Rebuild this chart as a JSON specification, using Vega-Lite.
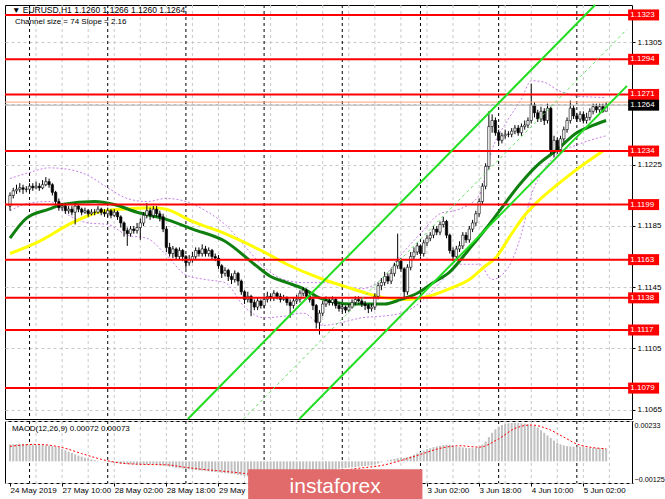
{
"$schema": "https://vega.github.io/schema/vega-lite/v6.json",
"background": "white",
"padding": {"left": 3, "top": 0, "right": 0, "bottom": 0},
"spacing": 2,
"bounds": "flush",
"config": {
  "font": "Liberation Sans",
  "view": {"stroke": "#000000", "strokeWidth": 1},
  "axis": {"labelFont": "Liberation Sans", "labelFontSize": 8, "labelColor": "#000000", "domainColor": "#000000", "tickColor": "#000000", "tickSize": 3, "labelPadding": 2, "gridColor": "#c8c8c8", "gridDash": [3, 3], "gridWidth": 1, "title": null}
},
"datasets": {
  "candles": [
{"i":0,"o":1.1198,"h":1.1207,"l":1.1195,"c":1.1205,"m":0.00098},
{"i":1,"o":1.1205,"h":1.1210,"l":1.1203,"c":1.1208,"m":0.00099},
{"i":2,"o":1.1208,"h":1.1212,"l":1.1206,"c":1.1209,"m":0.00100},
{"i":3,"o":1.1209,"h":1.1213,"l":1.1207,"c":1.1210,"m":0.00100},
{"i":4,"o":1.1210,"h":1.1212,"l":1.1206,"c":1.1209,"m":0.00100},
{"i":5,"o":1.1209,"h":1.1211,"l":1.1207,"c":1.1209,"m":0.00099},
{"i":6,"o":1.1209,"h":1.1213,"l":1.1207,"c":1.1211,"m":0.00098},
{"i":7,"o":1.1211,"h":1.1213,"l":1.1208,"c":1.1210,"m":0.00097},
{"i":8,"o":1.1210,"h":1.1214,"l":1.1209,"c":1.1211,"m":0.00096},
{"i":9,"o":1.1211,"h":1.1213,"l":1.1208,"c":1.1210,"m":0.00095},
{"i":10,"o":1.1210,"h":1.1215,"l":1.1209,"c":1.1212,"m":0.00093},
{"i":11,"o":1.1212,"h":1.1217,"l":1.1211,"c":1.1214,"m":0.00092},
{"i":12,"o":1.1214,"h":1.1216,"l":1.1210,"c":1.1212,"m":0.00090},
{"i":13,"o":1.1212,"h":1.1213,"l":1.1205,"c":1.1207,"m":0.00088},
{"i":14,"o":1.1207,"h":1.1208,"l":1.1199,"c":1.1201,"m":0.00085},
{"i":15,"o":1.1201,"h":1.1203,"l":1.1195,"c":1.1197,"m":0.00080},
{"i":16,"o":1.1197,"h":1.1200,"l":1.1195,"c":1.1198,"m":0.00072},
{"i":17,"o":1.1198,"h":1.1200,"l":1.1193,"c":1.1195,"m":0.00064},
{"i":18,"o":1.1195,"h":1.1198,"l":1.1193,"c":1.1196,"m":0.00056},
{"i":19,"o":1.1196,"h":1.1198,"l":1.1192,"c":1.1194,"m":0.00048},
{"i":20,"o":1.1194,"h":1.1200,"l":1.1186,"c":1.1198,"m":0.00040},
{"i":21,"o":1.1198,"h":1.1199,"l":1.1194,"c":1.1196,"m":0.00033},
{"i":22,"o":1.1196,"h":1.1197,"l":1.1192,"c":1.1194,"m":0.00027},
{"i":23,"o":1.1194,"h":1.1197,"l":1.1193,"c":1.1195,"m":0.00021},
{"i":24,"o":1.1195,"h":1.1196,"l":1.1191,"c":1.1193,"m":0.00016},
{"i":25,"o":1.1193,"h":1.1196,"l":1.1192,"c":1.1194,"m":0.00011},
{"i":26,"o":1.1194,"h":1.1196,"l":1.1192,"c":1.1194,"m":0.00007},
{"i":27,"o":1.1194,"h":1.1198,"l":1.1193,"c":1.1196,"m":0.00003},
{"i":28,"o":1.1196,"h":1.1197,"l":1.1192,"c":1.1194,"m":0.00000},
{"i":29,"o":1.1194,"h":1.1196,"l":1.1191,"c":1.1193,"m":-0.00002},
{"i":30,"o":1.1193,"h":1.1197,"l":1.1191,"c":1.1195,"m":-0.00004},
{"i":31,"o":1.1195,"h":1.1196,"l":1.1190,"c":1.1192,"m":-0.00006},
{"i":32,"o":1.1192,"h":1.1196,"l":1.1191,"c":1.1194,"m":-0.00008},
{"i":33,"o":1.1194,"h":1.1195,"l":1.1189,"c":1.1191,"m":-0.00010},
{"i":34,"o":1.1191,"h":1.1192,"l":1.1184,"c":1.1187,"m":-0.00012},
{"i":35,"o":1.1187,"h":1.1188,"l":1.1178,"c":1.1182,"m":-0.00014},
{"i":36,"o":1.1182,"h":1.1184,"l":1.1172,"c":1.1180,"m":-0.00016},
{"i":37,"o":1.1180,"h":1.1185,"l":1.1178,"c":1.1183,"m":-0.00017},
{"i":38,"o":1.1183,"h":1.1185,"l":1.1180,"c":1.1182,"m":-0.00018},
{"i":39,"o":1.1182,"h":1.1187,"l":1.1180,"c":1.1184,"m":-0.00019},
{"i":40,"o":1.1184,"h":1.1190,"l":1.1176,"c":1.1187,"m":-0.00020},
{"i":41,"o":1.1187,"h":1.1194,"l":1.1185,"c":1.1192,"m":-0.00020},
{"i":42,"o":1.1192,"h":1.1200,"l":1.1190,"c":1.1195,"m":-0.00019},
{"i":43,"o":1.1195,"h":1.1197,"l":1.1189,"c":1.1192,"m":-0.00018},
{"i":44,"o":1.1192,"h":1.1198,"l":1.1190,"c":1.1196,"m":-0.00019},
{"i":45,"o":1.1196,"h":1.1198,"l":1.1191,"c":1.1193,"m":-0.00020},
{"i":46,"o":1.1193,"h":1.1195,"l":1.1188,"c":1.1191,"m":-0.00022},
{"i":47,"o":1.1191,"h":1.1193,"l":1.1181,"c":1.1183,"m":-0.00025},
{"i":48,"o":1.1183,"h":1.1185,"l":1.1168,"c":1.1171,"m":-0.00028},
{"i":49,"o":1.1171,"h":1.1174,"l":1.1165,"c":1.1167,"m":-0.00031},
{"i":50,"o":1.1167,"h":1.1172,"l":1.1164,"c":1.1170,"m":-0.00034},
{"i":51,"o":1.1170,"h":1.1171,"l":1.1163,"c":1.1165,"m":-0.00037},
{"i":52,"o":1.1165,"h":1.1171,"l":1.1163,"c":1.1169,"m":-0.00040},
{"i":53,"o":1.1169,"h":1.1170,"l":1.1162,"c":1.1165,"m":-0.00042},
{"i":54,"o":1.1165,"h":1.1166,"l":1.1157,"c":1.1161,"m":-0.00044},
{"i":55,"o":1.1161,"h":1.1166,"l":1.1159,"c":1.1163,"m":-0.00046},
{"i":56,"o":1.1163,"h":1.1168,"l":1.1161,"c":1.1165,"m":-0.00048},
{"i":57,"o":1.1165,"h":1.1171,"l":1.1163,"c":1.1169,"m":-0.00050},
{"i":58,"o":1.1169,"h":1.1171,"l":1.1165,"c":1.1167,"m":-0.00052},
{"i":59,"o":1.1167,"h":1.1173,"l":1.1165,"c":1.1170,"m":-0.00054},
{"i":60,"o":1.1170,"h":1.1172,"l":1.1165,"c":1.1167,"m":-0.00056},
{"i":61,"o":1.1167,"h":1.1171,"l":1.1165,"c":1.1169,"m":-0.00058},
{"i":62,"o":1.1169,"h":1.1170,"l":1.1163,"c":1.1165,"m":-0.00060},
{"i":63,"o":1.1165,"h":1.1167,"l":1.1162,"c":1.1164,"m":-0.00062},
{"i":64,"o":1.1164,"h":1.1166,"l":1.1157,"c":1.1159,"m":-0.00064},
{"i":65,"o":1.1159,"h":1.1160,"l":1.1151,"c":1.1154,"m":-0.00066},
{"i":66,"o":1.1154,"h":1.1158,"l":1.1152,"c":1.1156,"m":-0.00068},
{"i":67,"o":1.1156,"h":1.1157,"l":1.1149,"c":1.1152,"m":-0.00070},
{"i":68,"o":1.1152,"h":1.1154,"l":1.1147,"c":1.1150,"m":-0.00072},
{"i":69,"o":1.1150,"h":1.1156,"l":1.1148,"c":1.1154,"m":-0.00075},
{"i":70,"o":1.1154,"h":1.1155,"l":1.1146,"c":1.1149,"m":-0.00078},
{"i":71,"o":1.1149,"h":1.1150,"l":1.1140,"c":1.1142,"m":-0.00081},
{"i":72,"o":1.1142,"h":1.1143,"l":1.1134,"c":1.1137,"m":-0.00084},
{"i":73,"o":1.1137,"h":1.1142,"l":1.1135,"c":1.1139,"m":-0.00087},
{"i":74,"o":1.1139,"h":1.1140,"l":1.1126,"c":1.1135,"m":-0.00090},
{"i":75,"o":1.1135,"h":1.1137,"l":1.1130,"c":1.1132,"m":-0.00092},
{"i":76,"o":1.1132,"h":1.1138,"l":1.1130,"c":1.1136,"m":-0.00094},
{"i":77,"o":1.1136,"h":1.1137,"l":1.1131,"c":1.1133,"m":-0.00095},
{"i":78,"o":1.1133,"h":1.1139,"l":1.1131,"c":1.1137,"m":-0.00095},
{"i":79,"o":1.1137,"h":1.1142,"l":1.1135,"c":1.1139,"m":-0.00094},
{"i":80,"o":1.1139,"h":1.1141,"l":1.1136,"c":1.1138,"m":-0.00092},
{"i":81,"o":1.1138,"h":1.1143,"l":1.1136,"c":1.1141,"m":-0.00090},
{"i":82,"o":1.1141,"h":1.1142,"l":1.1137,"c":1.1139,"m":-0.00087},
{"i":83,"o":1.1139,"h":1.1141,"l":1.1135,"c":1.1137,"m":-0.00084},
{"i":84,"o":1.1137,"h":1.1140,"l":1.1136,"c":1.1138,"m":-0.00081},
{"i":85,"o":1.1138,"h":1.1139,"l":1.1133,"c":1.1135,"m":-0.00078},
{"i":86,"o":1.1135,"h":1.1137,"l":1.1125,"c":1.1133,"m":-0.00075},
{"i":87,"o":1.1133,"h":1.1138,"l":1.1131,"c":1.1136,"m":-0.00072},
{"i":88,"o":1.1136,"h":1.1140,"l":1.1134,"c":1.1137,"m":-0.00069},
{"i":89,"o":1.1137,"h":1.1143,"l":1.1135,"c":1.1141,"m":-0.00066},
{"i":90,"o":1.1141,"h":1.1145,"l":1.1139,"c":1.1143,"m":-0.00063},
{"i":91,"o":1.1143,"h":1.1144,"l":1.1137,"c":1.1139,"m":-0.00060},
{"i":92,"o":1.1139,"h":1.1141,"l":1.1135,"c":1.1137,"m":-0.00058},
{"i":93,"o":1.1137,"h":1.1139,"l":1.1130,"c":1.1133,"m":-0.00057},
{"i":94,"o":1.1133,"h":1.1134,"l":1.1118,"c":1.1122,"m":-0.00058},
{"i":95,"o":1.1122,"h":1.1130,"l":1.1114,"c":1.1128,"m":-0.00060},
{"i":96,"o":1.1128,"h":1.1136,"l":1.1126,"c":1.1134,"m":-0.00058},
{"i":97,"o":1.1134,"h":1.1139,"l":1.1132,"c":1.1136,"m":-0.00055},
{"i":98,"o":1.1136,"h":1.1138,"l":1.1133,"c":1.1135,"m":-0.00052},
{"i":99,"o":1.1135,"h":1.1139,"l":1.1133,"c":1.1137,"m":-0.00049},
{"i":100,"o":1.1137,"h":1.1138,"l":1.1131,"c":1.1133,"m":-0.00046},
{"i":101,"o":1.1133,"h":1.1135,"l":1.1129,"c":1.1131,"m":-0.00043},
{"i":102,"o":1.1131,"h":1.1134,"l":1.1129,"c":1.1132,"m":-0.00041},
{"i":103,"o":1.1132,"h":1.1133,"l":1.1128,"c":1.1130,"m":-0.00039},
{"i":104,"o":1.1130,"h":1.1134,"l":1.1129,"c":1.1132,"m":-0.00037},
{"i":105,"o":1.1132,"h":1.1137,"l":1.1131,"c":1.1135,"m":-0.00035},
{"i":106,"o":1.1135,"h":1.1139,"l":1.1133,"c":1.1137,"m":-0.00033},
{"i":107,"o":1.1137,"h":1.1139,"l":1.1134,"c":1.1136,"m":-0.00031},
{"i":108,"o":1.1136,"h":1.1138,"l":1.1132,"c":1.1134,"m":-0.00029},
{"i":109,"o":1.1134,"h":1.1136,"l":1.1130,"c":1.1133,"m":-0.00027},
{"i":110,"o":1.1133,"h":1.1134,"l":1.1128,"c":1.1131,"m":-0.00025},
{"i":111,"o":1.1131,"h":1.1134,"l":1.1129,"c":1.1132,"m":-0.00023},
{"i":112,"o":1.1132,"h":1.1141,"l":1.1130,"c":1.1139,"m":-0.00018},
{"i":113,"o":1.1139,"h":1.1148,"l":1.1137,"c":1.1146,"m":-0.00012},
{"i":114,"o":1.1146,"h":1.1151,"l":1.1143,"c":1.1148,"m":-0.00006},
{"i":115,"o":1.1148,"h":1.1155,"l":1.1146,"c":1.1152,"m":0.00000},
{"i":116,"o":1.1152,"h":1.1154,"l":1.1147,"c":1.1149,"m":0.00005},
{"i":117,"o":1.1149,"h":1.1157,"l":1.1147,"c":1.1154,"m":0.00010},
{"i":118,"o":1.1154,"h":1.1161,"l":1.1152,"c":1.1159,"m":0.00015},
{"i":119,"o":1.1159,"h":1.1180,"l":1.1157,"c":1.1162,"m":0.00019},
{"i":120,"o":1.1162,"h":1.1164,"l":1.1155,"c":1.1157,"m":0.00022},
{"i":121,"o":1.1157,"h":1.1158,"l":1.1138,"c":1.1142,"m":0.00020},
{"i":122,"o":1.1142,"h":1.1160,"l":1.1140,"c":1.1158,"m":0.00024},
{"i":123,"o":1.1158,"h":1.1168,"l":1.1156,"c":1.1165,"m":0.00030},
{"i":124,"o":1.1165,"h":1.1171,"l":1.1163,"c":1.1168,"m":0.00038},
{"i":125,"o":1.1168,"h":1.1174,"l":1.1166,"c":1.1172,"m":0.00046},
{"i":126,"o":1.1172,"h":1.1173,"l":1.1165,"c":1.1167,"m":0.00054},
{"i":127,"o":1.1167,"h":1.1176,"l":1.1165,"c":1.1174,"m":0.00062},
{"i":128,"o":1.1174,"h":1.1179,"l":1.1172,"c":1.1177,"m":0.00070},
{"i":129,"o":1.1177,"h":1.1181,"l":1.1175,"c":1.1179,"m":0.00076},
{"i":130,"o":1.1179,"h":1.1185,"l":1.1177,"c":1.1183,"m":0.00082},
{"i":131,"o":1.1183,"h":1.1185,"l":1.1179,"c":1.1181,"m":0.00086},
{"i":132,"o":1.1181,"h":1.1188,"l":1.1179,"c":1.1186,"m":0.00090},
{"i":133,"o":1.1186,"h":1.1191,"l":1.1184,"c":1.1188,"m":0.00094},
{"i":134,"o":1.1188,"h":1.1189,"l":1.1177,"c":1.1179,"m":0.00096},
{"i":135,"o":1.1179,"h":1.1180,"l":1.1167,"c":1.1169,"m":0.00095},
{"i":136,"o":1.1169,"h":1.1171,"l":1.1162,"c":1.1165,"m":0.00088},
{"i":137,"o":1.1165,"h":1.1172,"l":1.1163,"c":1.1170,"m":0.00084},
{"i":138,"o":1.1170,"h":1.1175,"l":1.1168,"c":1.1172,"m":0.00082},
{"i":139,"o":1.1172,"h":1.1181,"l":1.1170,"c":1.1179,"m":0.00080},
{"i":140,"o":1.1179,"h":1.1181,"l":1.1174,"c":1.1176,"m":0.00078},
{"i":141,"o":1.1176,"h":1.1185,"l":1.1174,"c":1.1183,"m":0.00077},
{"i":142,"o":1.1183,"h":1.1189,"l":1.1181,"c":1.1187,"m":0.00076},
{"i":143,"o":1.1187,"h":1.1195,"l":1.1185,"c":1.1193,"m":0.00078},
{"i":144,"o":1.1193,"h":1.1203,"l":1.1191,"c":1.1201,"m":0.00084},
{"i":145,"o":1.1201,"h":1.1213,"l":1.1199,"c":1.1211,"m":0.00096},
{"i":146,"o":1.1211,"h":1.1226,"l":1.1209,"c":1.1224,"m":0.00115},
{"i":147,"o":1.1224,"h":1.1260,"l":1.1222,"c":1.1250,"m":0.00140},
{"i":148,"o":1.1250,"h":1.1258,"l":1.1246,"c":1.1254,"m":0.00165},
{"i":149,"o":1.1254,"h":1.1256,"l":1.1244,"c":1.1246,"m":0.00185},
{"i":150,"o":1.1246,"h":1.1248,"l":1.1239,"c":1.1241,"m":0.00200},
{"i":151,"o":1.1241,"h":1.1246,"l":1.1239,"c":1.1244,"m":0.00210},
{"i":152,"o":1.1244,"h":1.1248,"l":1.1242,"c":1.1245,"m":0.00216},
{"i":153,"o":1.1245,"h":1.1247,"l":1.1243,"c":1.1245,"m":0.00220},
{"i":154,"o":1.1245,"h":1.1249,"l":1.1243,"c":1.1247,"m":0.00222},
{"i":155,"o":1.1247,"h":1.1251,"l":1.1245,"c":1.1249,"m":0.00223},
{"i":156,"o":1.1249,"h":1.1251,"l":1.1244,"c":1.1246,"m":0.00222},
{"i":157,"o":1.1246,"h":1.1252,"l":1.1244,"c":1.1250,"m":0.00220},
{"i":158,"o":1.1250,"h":1.1254,"l":1.1248,"c":1.1251,"m":0.00218},
{"i":159,"o":1.1251,"h":1.1256,"l":1.1249,"c":1.1254,"m":0.00214},
{"i":160,"o":1.1254,"h":1.1278,"l":1.1252,"c":1.1264,"m":0.00210},
{"i":161,"o":1.1264,"h":1.1266,"l":1.1256,"c":1.1259,"m":0.00205},
{"i":162,"o":1.1259,"h":1.1261,"l":1.1253,"c":1.1255,"m":0.00195},
{"i":163,"o":1.1255,"h":1.1263,"l":1.1253,"c":1.1260,"m":0.00180},
{"i":164,"o":1.1260,"h":1.1262,"l":1.1251,"c":1.1254,"m":0.00165},
{"i":165,"o":1.1254,"h":1.1265,"l":1.1252,"c":1.1262,"m":0.00150},
{"i":166,"o":1.1262,"h":1.1263,"l":1.1232,"c":1.1234,"m":0.00135},
{"i":167,"o":1.1234,"h":1.1244,"l":1.1230,"c":1.1241,"m":0.00120},
{"i":168,"o":1.1241,"h":1.1243,"l":1.1232,"c":1.1235,"m":0.00108},
{"i":169,"o":1.1235,"h":1.1244,"l":1.1233,"c":1.1242,"m":0.00098},
{"i":170,"o":1.1242,"h":1.1250,"l":1.1240,"c":1.1248,"m":0.00092},
{"i":171,"o":1.1248,"h":1.1256,"l":1.1246,"c":1.1254,"m":0.00088},
{"i":172,"o":1.1254,"h":1.1267,"l":1.1252,"c":1.1262,"m":0.00086},
{"i":173,"o":1.1262,"h":1.1264,"l":1.1255,"c":1.1257,"m":0.00085},
{"i":174,"o":1.1257,"h":1.1259,"l":1.1253,"c":1.1255,"m":0.00084},
{"i":175,"o":1.1255,"h":1.1260,"l":1.1253,"c":1.1258,"m":0.00083},
{"i":176,"o":1.1258,"h":1.1260,"l":1.1252,"c":1.1254,"m":0.00082},
{"i":177,"o":1.1254,"h":1.1259,"l":1.1252,"c":1.1256,"m":0.00080},
{"i":178,"o":1.1256,"h":1.1262,"l":1.1254,"c":1.1260,"m":0.00079},
{"i":179,"o":1.1260,"h":1.1265,"l":1.1258,"c":1.1263,"m":0.00078},
{"i":180,"o":1.1263,"h":1.1265,"l":1.1259,"c":1.1261,"m":0.00077},
{"i":181,"o":1.1261,"h":1.1265,"l":1.1259,"c":1.1263,"m":0.00076},
{"i":182,"o":1.1263,"h":1.1265,"l":1.1259,"c":1.1260,"m":0.00074},
{"i":183,"o":1.1260,"h":1.1266,"l":1.1260,"c":1.1264,"m":0.00072}
  ],
  "green": [
{"i":0,"v":1.1177},{"i":5,"v":1.1190},{"i":12,"v":1.1196},{"i":16,"v":1.1199},{"i":26,"v":1.1201},{"i":32,"v":1.1199},{"i":39,"v":1.1194},{"i":47,"v":1.1190},{"i":56,"v":1.1183},{"i":66,"v":1.1175},{"i":75,"v":1.1160},{"i":80,"v":1.1152},{"i":85,"v":1.1148},{"i":90,"v":1.1144},{"i":95,"v":1.1138},{"i":100,"v":1.1135},{"i":105,"v":1.1134},{"i":110,"v":1.1134},{"i":115,"v":1.1134},{"i":120,"v":1.1137},{"i":125,"v":1.1141},{"i":130,"v":1.1148},{"i":135,"v":1.1155},{"i":141,"v":1.1170},{"i":146,"v":1.1183},{"i":151,"v":1.1197},{"i":156,"v":1.1211},{"i":162,"v":1.1225},{"i":168,"v":1.1235},{"i":174,"v":1.1246},{"i":178,"v":1.1250},{"i":183,"v":1.1254}
  ],
  "yellow": [
{"i":0,"v":1.1167},{"i":9,"v":1.1175},{"i":19,"v":1.1187},{"i":27,"v":1.1194},{"i":34,"v":1.1196},{"i":44,"v":1.1197},{"i":48,"v":1.1196},{"i":56,"v":1.1188},{"i":66,"v":1.1180},{"i":77,"v":1.1169},{"i":85,"v":1.1160},{"i":95,"v":1.1151},{"i":105,"v":1.1144},{"i":115,"v":1.1138},{"i":122,"v":1.1137},{"i":130,"v":1.1140},{"i":135,"v":1.1144},{"i":141,"v":1.1150},{"i":146,"v":1.1159},{"i":149,"v":1.1164},{"i":154,"v":1.1180},{"i":158,"v":1.1192},{"i":162,"v":1.1201},{"i":168,"v":1.1212},{"i":174,"v":1.1222},{"i":182,"v":1.1234}
  ],
  "bb": [
{"i":0,"u":1.1216,"l":1.1195},{"i":6,"u":1.1220,"l":1.1200},{"i":12,"u":1.1223,"l":1.1201},{"i":18,"u":1.1222,"l":1.1192},{"i":24,"u":1.1218,"l":1.1187},{"i":30,"u":1.1210,"l":1.1186},{"i":36,"u":1.1203,"l":1.1179},{"i":42,"u":1.1201,"l":1.1177},{"i":48,"u":1.1203,"l":1.1166},{"i":54,"u":1.1201,"l":1.1153},{"i":60,"u":1.1195,"l":1.1150},{"i":66,"u":1.1186,"l":1.1148},{"i":72,"u":1.1172,"l":1.1132},{"i":78,"u":1.1158,"l":1.1125},{"i":84,"u":1.1150,"l":1.1126},{"i":90,"u":1.1148,"l":1.1128},{"i":96,"u":1.1148,"l":1.1120},{"i":102,"u":1.1146,"l":1.1122},{"i":108,"u":1.1144,"l":1.1125},{"i":114,"u":1.1150,"l":1.1126},{"i":120,"u":1.1166,"l":1.1128},{"i":126,"u":1.1180,"l":1.1135},{"i":132,"u":1.1193,"l":1.1148},{"i":138,"u":1.1196,"l":1.1160},{"i":144,"u":1.1205,"l":1.1160},{"i":148,"u":1.1235,"l":1.1150},{"i":153,"u":1.1255,"l":1.1158},{"i":157,"u":1.1268,"l":1.1180},{"i":160,"u":1.1280,"l":1.1205},{"i":164,"u":1.1279,"l":1.1222},{"i":168,"u":1.1274,"l":1.1232},{"i":174,"u":1.1270,"l":1.1238},{"i":183,"u":1.1269,"l":1.1244}
  ],
  "levels": [
{"p":1.1323,"t":"1.1323"},{"p":1.1294,"t":"1.1294"},{"p":1.1271,"t":"1.1271"},{"p":1.1234,"t":"1.1234"},{"p":1.1199,"t":"1.1199"},{"p":1.1163,"t":"1.1163"},{"p":1.1138,"t":"1.1138"},{"p":1.1117,"t":"1.1117"},{"p":1.1079,"t":"1.1079"}
  ],
  "bid": [{"p":1.1264,"t":"1.1264"}],
  "ask": [{"p":1.1266}],
  "notes": [
{"k":"head","i":0.6,"p":1.13265,"s":8.5,"t":"▼  EURUSD,H1   1.1260  1.1266  1.1260  1.1264"},
{"k":"chan","i":1.5,"p":1.13185,"s":8,"t":"Channel size = 74 Slope = 2.16"}
  ],
  "macdnote": [{"i":0.6,"v":0.00185,"t":"MACD(12,26,9) 0.00072 0.00073"}],
  "wm": [{"i":73.1,"i2":126.6,"v":-0.00045,"v2":-0.00225,"ti":99.8,"tv":-0.0015,"t":"instaforex"}],
  "chan": [
{"k":"lo","i":88.8,"p":1.10588},{"k":"lo","i":189.4,"p":1.12766},
{"k":"up","i":54.6,"p":1.10588},{"k":"up","i":179.6,"p":1.13295},
{"k":"mid","i":71.7,"p":1.10588},{"k":"mid","i":189.4,"p":1.13136}
  ],
  "seps": [{"i":6},{"i":30},{"i":54},{"i":78},{"i":102},{"i":126},{"i":150},{"i":174}],
  "vgrid": [{"i":8},{"i":16},{"i":24},{"i":32},{"i":40},{"i":48},{"i":56},{"i":64},{"i":72},{"i":80},{"i":88},{"i":96},{"i":104},{"i":112},{"i":120},{"i":128},{"i":136},{"i":144},{"i":152},{"i":160},{"i":168},{"i":176},{"i":184}],
  "sig": [
{"i":0,"s":0.00087},{"i":8,"s":0.00098},{"i":16,"s":0.00080},{"i":22,"s":0.00045},{"i":28,"s":0.00012},{"i":35,"s":-0.00012},{"i":42,"s":-0.00018},{"i":48,"s":-0.00020},{"i":54,"s":-0.00035},{"i":60,"s":-0.00048},{"i":66,"s":-0.00058},{"i":72,"s":-0.00070},{"i":78,"s":-0.00085},{"i":84,"s":-0.00090},{"i":90,"s":-0.00080},{"i":96,"s":-0.00065},{"i":102,"s":-0.00052},{"i":108,"s":-0.00038},{"i":114,"s":-0.00024},{"i":120,"s":0.00005},{"i":126,"s":0.00040},{"i":132,"s":0.00075},{"i":138,"s":0.00090},{"i":144,"s":0.00082},{"i":150,"s":0.00130},{"i":155,"s":0.00190},{"i":160,"s":0.00210},{"i":165,"s":0.00188},{"i":170,"s":0.00140},{"i":174,"s":0.00100},{"i":178,"s":0.00082},{"i":183,"s":0.00073}
  ]
},
"vconcat": [
{
  "width": 627,
  "height": 414,
  "layer": [
    {
      "data": {"name": "vgrid"},
      "mark": {"type": "rule", "color": "#c8c8c8", "strokeDash": [3, 3], "strokeWidth": 1},
      "encoding": {
        "x": {"field": "i", "type": "quantitative", "scale": {"domain": [0, 189.4], "nice": false, "zero": false}, "axis": null}
      }
    },
    {
      "data": {"name": "seps"},
      "mark": {"type": "rule", "color": "#000000", "strokeDash": [3, 3], "strokeWidth": 1},
      "encoding": {"x": {"field": "i", "type": "quantitative", "axis": null}}
    },
    {
      "data": {"name": "bb"},
      "mark": {"type": "line", "color": "#c77ee8", "strokeDash": [2, 2], "strokeWidth": 1, "interpolate": "monotone"},
      "encoding": {
        "x": {"field": "i", "type": "quantitative", "axis": null},
        "y": {"field": "u", "type": "quantitative", "title": null,
              "scale": {"domain": [1.10588, 1.13295], "nice": false, "zero": false},
              "axis": {"orient": "right", "grid": true, "domain": false,
                       "values": [1.1065, 1.1085, 1.1105, 1.1125, 1.1145, 1.1165, 1.1185, 1.1205, 1.1225, 1.1245, 1.1265, 1.1285, 1.1305, 1.1325],
                       "labelExpr": "(abs(datum.value-1.1165)<0.00001||abs(datum.value-1.1265)<0.00001||abs(datum.value-1.1325)<0.00001)?'':format(datum.value,'.4f')"}}
      }
    },
    {
      "data": {"name": "bb"},
      "mark": {"type": "line", "color": "#c77ee8", "strokeDash": [2, 2], "strokeWidth": 1, "interpolate": "monotone"},
      "encoding": {
        "x": {"field": "i", "type": "quantitative", "axis": null},
        "y": {"field": "l", "type": "quantitative", "title": null}
      }
    },
    {
      "data": {"name": "yellow"},
      "mark": {"type": "line", "color": "#ffff00", "strokeWidth": 3, "interpolate": "monotone"},
      "encoding": {
        "x": {"field": "i", "type": "quantitative", "axis": null},
        "y": {"field": "v", "type": "quantitative", "title": null}
      }
    },
    {
      "data": {"name": "green"},
      "mark": {"type": "line", "color": "#0f7f0f", "strokeWidth": 3, "interpolate": "monotone"},
      "encoding": {
        "x": {"field": "i", "type": "quantitative", "axis": null},
        "y": {"field": "v", "type": "quantitative", "title": null}
      }
    },
    {
      "data": {"name": "candles"},
      "mark": {"type": "rule", "color": "#000000", "strokeWidth": 1},
      "encoding": {
        "x": {"field": "i", "type": "quantitative", "axis": null},
        "y": {"field": "l", "type": "quantitative", "title": null},
        "y2": {"field": "h"}
      }
    },
    {
      "data": {"name": "candles"},
      "mark": {"type": "bar", "size": 2.4, "stroke": "#000000", "strokeWidth": 0.6},
      "encoding": {
        "x": {"field": "i", "type": "quantitative", "axis": null},
        "y": {"field": "o", "type": "quantitative", "title": null},
        "y2": {"field": "c"},
        "fill": {"condition": {"test": "datum.c >= datum.o", "value": "#ffffff"}, "value": "#000000"}
      }
    },
    {
      "data": {"name": "ask"},
      "mark": {"type": "rule", "color": "#ffa07a", "strokeWidth": 1},
      "encoding": {"y": {"field": "p", "type": "quantitative", "title": null}}
    },
    {
      "data": {"name": "bid"},
      "mark": {"type": "rule", "color": "#b0b0b0", "strokeWidth": 1},
      "encoding": {"y": {"field": "p", "type": "quantitative", "title": null}}
    },
    {
      "data": {"name": "levels"},
      "mark": {"type": "rule", "color": "#ff0000", "strokeWidth": 2},
      "encoding": {"y": {"field": "p", "type": "quantitative", "title": null}}
    },
    {
      "data": {"name": "chan"},
      "transform": [{"filter": "datum.k != 'mid'"}],
      "mark": {"type": "line", "color": "#22dd22", "strokeWidth": 2},
      "encoding": {
        "x": {"field": "i", "type": "quantitative", "axis": null},
        "y": {"field": "p", "type": "quantitative", "title": null},
        "detail": {"field": "k"}
      }
    },
    {
      "data": {"name": "chan"},
      "transform": [{"filter": "datum.k == 'mid'"}],
      "mark": {"type": "line", "color": "#66e066", "strokeWidth": 1, "strokeDash": [3, 3]},
      "encoding": {
        "x": {"field": "i", "type": "quantitative", "axis": null},
        "y": {"field": "p", "type": "quantitative", "title": null}
      }
    },
    {
      "data": {"name": "levels"},
      "mark": {"type": "tick", "orient": "horizontal", "size": 31, "thickness": 11, "color": "#ff0000", "opacity": 1},
      "encoding": {
        "x": {"datum": 194.5},
        "y": {"field": "p", "type": "quantitative", "title": null}
      }
    },
    {
      "data": {"name": "levels"},
      "mark": {"type": "text", "align": "left", "baseline": "middle", "fontSize": 8, "color": "#ffffff"},
      "encoding": {
        "x": {"datum": 190.4},
        "y": {"field": "p", "type": "quantitative", "title": null},
        "text": {"field": "t"}
      }
    },
    {
      "data": {"name": "bid"},
      "mark": {"type": "tick", "orient": "horizontal", "size": 31, "thickness": 11, "color": "#000000", "opacity": 1},
      "encoding": {"x": {"datum": 194.5}, "y": {"field": "p", "type": "quantitative", "title": null}}
    },
    {
      "data": {"name": "bid"},
      "mark": {"type": "text", "align": "left", "baseline": "middle", "fontSize": 8, "color": "#ffffff"},
      "encoding": {"x": {"datum": 190.4}, "y": {"field": "p", "type": "quantitative", "title": null}, "text": {"field": "t"}}
    },
    {
      "data": {"name": "notes"},
      "mark": {"type": "text", "align": "left", "baseline": "middle", "color": "#000000"},
      "encoding": {"x": {"field": "i", "type": "quantitative", "axis": null}, "y": {"field": "p", "type": "quantitative", "title": null}, "text": {"field": "t"}, "size": {"field": "s", "type": "quantitative", "scale": null, "legend": null}}
    }
  ]
},
{
  "width": 627,
  "height": 62,
  "layer": [
    {
      "data": {"name": "vgrid"},
      "mark": {"type": "rule", "color": "#c8c8c8", "strokeDash": [3, 3], "strokeWidth": 1},
      "encoding": {
        "x": {"field": "i", "type": "quantitative", "title": null, "scale": {"domain": [0, 189.4], "nice": false, "zero": false},
              "axis": {"values": [0, 16, 32, 48, 64, 128, 144, 160, 176], "grid": false, "domain": false, "labelAlign": "left", "labelOverlap": false, "labelFlush": false, "labelPadding": 0,
                       "labelExpr": "datum.value==0?'24 May 2019':datum.value==16?'27 May 10:00':datum.value==32?'28 May 02:00':datum.value==48?'28 May 18:00':datum.value==64?'29 May 10:00':datum.value==128?'3 Jun 02:00':datum.value==144?'3 Jun 18:00':datum.value==160?'4 Jun 10:00':'5 Jun 02:00'"}}
      }
    },
    {
      "data": {"name": "seps"},
      "mark": {"type": "rule", "color": "#000000", "strokeDash": [3, 3], "strokeWidth": 1},
      "encoding": {"x": {"field": "i", "type": "quantitative", "title": null}}
    },
    {
      "data": {"name": "candles"},
      "mark": {"type": "bar", "size": 2, "color": "#c0c0c0"},
      "encoding": {
        "x": {"field": "i", "type": "quantitative", "title": null},
        "y": {"field": "m", "type": "quantitative", "title": null,
              "scale": {"domain": [-0.00125, 0.00233], "nice": false, "zero": false},
              "axis": {"orient": "right", "grid": true, "domain": false, "values": [-0.00125, 0, 0.00233], "labelFlush": true, "tickSize": 1, "labelPadding": 1, "labelFontSize": 7.2,
                       "labelExpr": "datum.value==0?'0.00':format(datum.value,'.5f')"}},
        "y2": {"datum": 0}
      }
    },
    {
      "data": {"name": "sig"},
      "mark": {"type": "line", "color": "#ff0000", "strokeWidth": 1, "strokeDash": [2, 2], "interpolate": "monotone"},
      "encoding": {
        "x": {"field": "i", "type": "quantitative", "title": null},
        "y": {"field": "s", "type": "quantitative", "title": null}
      }
    },
    {
      "data": {"name": "macdnote"},
      "mark": {"type": "text", "align": "left", "baseline": "middle", "fontSize": 8, "color": "#000000"},
      "encoding": {"x": {"field": "i", "type": "quantitative", "title": null}, "y": {"field": "v", "type": "quantitative", "title": null}, "text": {"field": "t"}}
    },
    {
      "data": {"name": "wm"},
      "mark": {"type": "rect", "color": "#e16b6b", "opacity": 1},
      "encoding": {"x": {"field": "i", "type": "quantitative", "title": null}, "x2": {"field": "i2"}, "y": {"field": "v", "type": "quantitative", "title": null}, "y2": {"field": "v2"}}
    },
    {
      "data": {"name": "wm"},
      "mark": {"type": "text", "align": "center", "baseline": "middle", "fontSize": 21, "color": "#ffffff"},
      "encoding": {"x": {"field": "ti", "type": "quantitative", "title": null}, "y": {"field": "tv", "type": "quantitative", "title": null}, "text": {"field": "t"}}
    }
  ]
}
]
}
